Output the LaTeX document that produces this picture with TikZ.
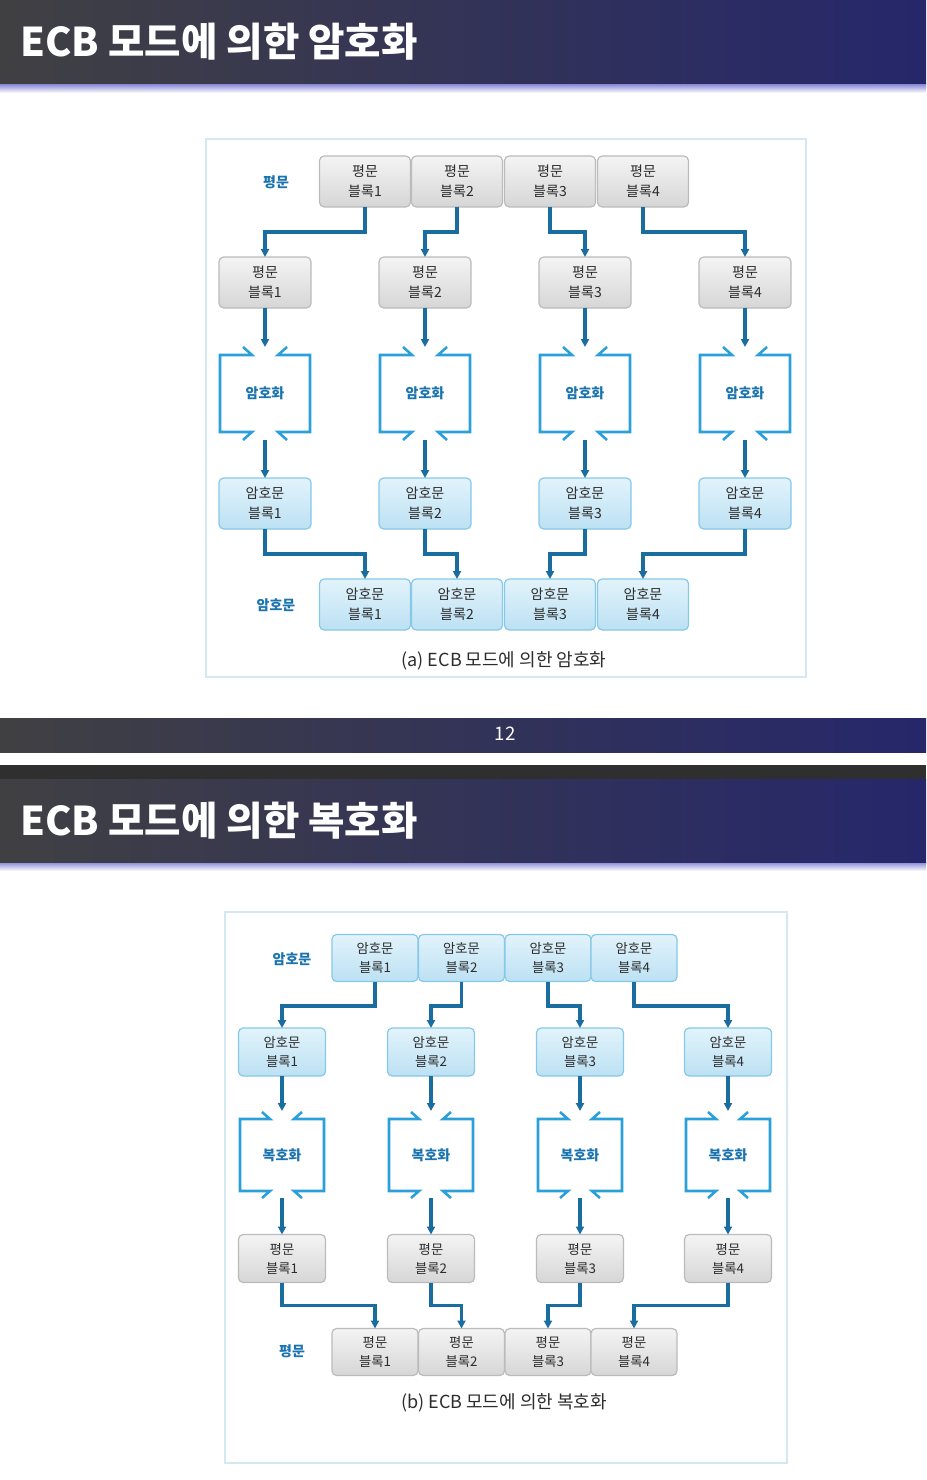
\documentclass[tikz,border=0pt]{standalone}
\usepackage{fontspec}
\setmainfont{Noto Sans CJK KR}
\usetikzlibrary{arrows.meta,calc}
\definecolor{hdL}{HTML}{404043}
\definecolor{hdR}{HTML}{26276B}
\definecolor{lav}{HTML}{9494DC}
\definecolor{band}{HTML}{2F2F2F}
\definecolor{gtop}{HTML}{F4F4F4}
\definecolor{gbot}{HTML}{D6D6D6}
\definecolor{gbd}{HTML}{BBBBBB}
\definecolor{btop}{HTML}{E2F3FB}
\definecolor{bbot}{HTML}{BCE1F3}
\definecolor{bbd}{HTML}{86C8E8}
\definecolor{connc}{HTML}{1A6E9F}
\definecolor{clinec}{HTML}{2A9FD9}
\definecolor{lblc}{HTML}{1B74B0}
\definecolor{txtc}{HTML}{2C2C2C}
\definecolor{frmc}{HTML}{D3E8F0}
\tikzset{
  boxbase/.style={line width=0.9pt, rounded corners=3.5pt, text=txtc, align=center, inner sep=0pt, outer sep=0pt},
  gbox/.style={boxbase, draw=gbd, top color=gtop, bottom color=gbot},
  bbox/.style={boxbase, draw=bbd, top color=btop, bottom color=bbot},
  fa/.style={font=\fontsize{10.5}{15}\selectfont},
  fb/.style={font=\fontsize{10}{14.25}\selectfont},
  arr/.style={draw=connc, line width=2.3pt, -{Triangle[length=6pt,width=6pt]}},
  cl/.style={draw=clinec, line width=1.9pt},
  cnode/.style={inner sep=0pt, outer sep=0pt, text=lblc, font=\fontsize{10.5}{12}\bfseries\selectfont},
  lbl/.style={inner sep=0pt, text=lblc, font=\fontsize{10.5}{12}\bfseries\selectfont},
  captxt/.style={inner sep=0pt, text=txtc, font=\fontsize{13.5}{15}\selectfont},
  ttl/.style={anchor=west, inner sep=0pt, text=white, font=\fontsize{29.7}{32}\bfseries\selectfont},
  frm/.style={draw=frmc, line width=0.8pt}
}
\newcommand\boxoutline[4]{%
  \draw[cl] ($(#1.north)+(-#3,-#4)$) -- ($(#1.north)+(-#2,0)$) -| (#1.south west) -- ($(#1.south)+(-#2,0)$) -- ($(#1.south)+(-#3,#4)$);
  \draw[cl] ($(#1.north)+(#3,-#4)$) -- ($(#1.north)+(#2,0)$) -| (#1.south east) -- ($(#1.south)+(#2,0)$) -- ($(#1.south)+(#3,#4)$);}
\begin{document}
\begin{tikzpicture}[x=0.75pt,y=-0.75pt]
\useasboundingbox (0,0) rectangle (926,1480);
\fill[white] (0,0) rectangle (926,1480);
% ---- headers and bars
\shade[left color=hdL, right color=hdR] (0,0) rectangle (926,85);
\shade[top color=lav, bottom color=white] (0,85) rectangle (926,93);
\node[ttl] (title1) at (20,42) {ECB 모드에 의한 암호화};
\shade[left color=hdL, right color=hdR] (0,718) rectangle (926,752);
\node[inner sep=0pt, text=white, font=\fontsize{14}{16}\selectfont] (pnum) at (505,734) {12};
\fill[band] (0,765) rectangle (926,779);
\shade[left color=hdL, right color=hdR] (0,779) rectangle (926,863);
\shade[top color=lav, bottom color=white] (0,863) rectangle (926,871);
\node[ttl] (title2) at (20,821) {ECB 모드에 의한 복호화};

% ================= (a) encryption
\draw[frm] (206,139) rectangle (806,677);
\node[lbl] (lpa) at (276,182) {평문};
\node[lbl] (lca) at (276,605) {암호문};
\foreach \i/\x in {1/365,2/457,3/550,4/643} {
  \node[gbox, fa, minimum width=68.25pt, minimum height=38.25pt] (at\i) at (\x,181.5) {평문\\블록\i};
  \node[bbox, fa, minimum width=68.25pt, minimum height=38.25pt] (ab\i) at (\x,604.5) {암호문\\블록\i};
}
\foreach \i/\x in {1/265,2/425,3/585,4/745} {
  \node[gbox, fa, minimum width=69pt, minimum height=38.25pt] (ap\i) at (\x,282.5) {평문\\블록\i};
  \node[cnode, minimum width=67.5pt, minimum height=57.75pt] (ae\i) at (\x,393.5) {암호화};
  \node[bbox, fa, minimum width=69pt, minimum height=38.25pt] (ac\i) at (\x,503.5) {암호문\\블록\i};
  \boxoutline{ae\i}{13}{22}{8}
}
\foreach \i in {1,...,4} {
  \draw[arr] (at\i.south) -- ++(0,25) -| (ap\i.north);
  \draw[arr] (ap\i.south) -- ($(ae\i.north)+(0,-8)$);
  \draw[arr] ($(ae\i.south)+(0,8)$) -- (ac\i.north);
  \draw[arr] (ac\i.south) -- ++(0,25) -| (ab\i.north);
}
\node[captxt] (capa) at (504,661) {(a) ECB 모드에 의한 암호화};

% ================= (b) decryption
\draw[frm] (225,912) rectangle (787,1463);
\node[lbl] (lcb) at (292,959) {암호문};
\node[lbl] (lpb) at (292,1351) {평문};
\foreach \i/\x in {1/375,2/461.5,3/548,4/634} {
  \node[bbox, fb, minimum width=64.5pt, minimum height=35.25pt] (bt\i) at (\x,958) {암호문\\블록\i};
  \node[gbox, fb, minimum width=64.5pt, minimum height=35.25pt] (bb\i) at (\x,1352) {평문\\블록\i};
}
\foreach \i/\x in {1/282,2/431,3/580,4/728} {
  \node[bbox, fb, minimum width=65.25pt, minimum height=36pt] (bc\i) at (\x,1052) {암호문\\블록\i};
  \node[cnode, minimum width=63pt, minimum height=54pt] (bd\i) at (\x,1155) {복호화};
  \node[gbox, fb, minimum width=65.25pt, minimum height=36pt] (bp\i) at (\x,1258.5) {평문\\블록\i};
  \boxoutline{bd\i}{12}{20}{7}
}
\foreach \i in {1,...,4} {
  \draw[arr] (bt\i.south) -- ++(0,24.5) -| (bc\i.north);
  \draw[arr] (bc\i.south) -- ($(bd\i.north)+(0,-8)$);
  \draw[arr] ($(bd\i.south)+(0,7)$) -- (bp\i.north);
  \draw[arr] (bp\i.south) -- ++(0,23) -| (bb\i.north);
}
\node[captxt] (capb) at (504,1403) {(b) ECB 모드에 의한 복호화};
\end{tikzpicture}
\end{document}
